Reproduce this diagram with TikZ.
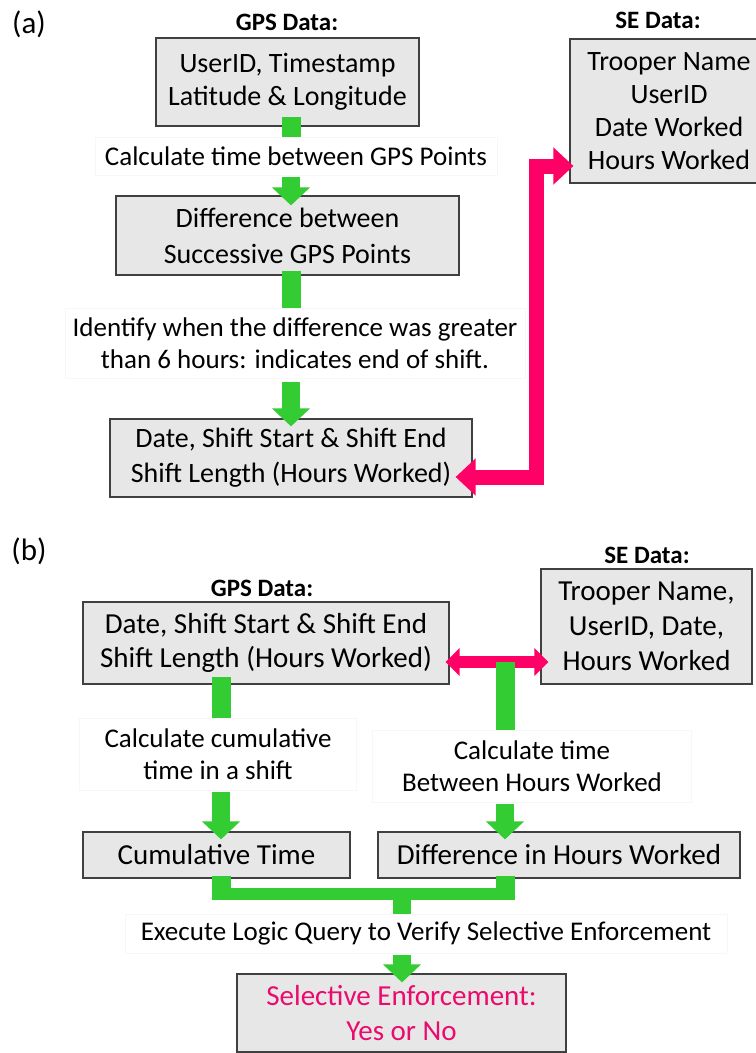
\documentclass[tikz,border=0pt]{standalone}
\usepackage{fontspec}
\setmainfont{Carlito}
\usepackage{tikz}
\usetikzlibrary{arrows.meta,calc}
\definecolor{boxgray}{RGB}{231,231,231}
\definecolor{flowgreen}{RGB}{51,204,51}
\definecolor{linkpink}{RGB}{255,0,102}
\definecolor{selpink}{RGB}{235,10,110}

\begin{document}
\begin{tikzpicture}[x=1bp, y=-1bp]
			\tikzstyle{Box}		= [rectangle, draw=black!75, line width=1.2bp, fill=boxgray, align=center, inner sep=0pt, font=\fontsize{28bp}{33bp}\selectfont]
			\tikzstyle{BoxB}	= [Box, font=\fontsize{29bp}{34bp}\selectfont]
			\tikzstyle{Label}	= [rectangle, draw=black!3, fill=white, align=center, inner sep=0pt, font=\fontsize{27bp}{32bp}\selectfont]
			\tikzstyle{Head}	= [font=\fontsize{25bp}{30bp}\selectfont\bfseries]
			\tikzstyle{Tag}		= [font=\fontsize{31bp}{36bp}\selectfont]
			\tikzstyle{Stub}	= [flowgreen, line width=19bp]
			\tikzstyle{Flow}	= [flowgreen, line width=18bp, -{Triangle[width=37bp,length=18bp]}]
			\tikzstyle{Bus}		= [flowgreen, line width=12bp]
			\tikzstyle{Link}	= [linkpink, line width=15bp, line join=miter, {Triangle[width=36bp,length=20bp]}-{Triangle[width=36bp,length=20bp]}]
			\tikzstyle{LinkB}	= [linkpink, line width=12bp, {Triangle[width=27bp,length=14bp]}-{Triangle[width=27bp,length=14bp]}]

			\clip (0,0) rectangle (756,1053);
			\fill [white] (0,0) rectangle (756,1053);

			% (a)
			\node (ta) at (29, 24) [Tag] {(a)};
			\node (hg1) at (287, 22) [Head] {GPS Data:};
			\node (hs1) at (658, 20) [Head] {SE Data:};
			\node (b1) at (287.5, 82) [Box, minimum width=263bp, minimum height=88bp] {UserID, Timestamp\\Latitude \& Longitude};
			\node (l1) at (296, 156) [Label, minimum width=402bp, minimum height=38bp] {Calculate time between GPS Points};
			\node (b2) at (287.5, 235.5) [Box, minimum width=343bp, minimum height=79bp, font=\fontsize{28bp}{36bp}\selectfont] {Difference between\\Successive GPS Points};
			\node (l2) at (295, 343) [Label, minimum width=460bp, minimum height=70bp] {Identify when the difference was greater\\than 6 hours: indicates end of shift.};
			\node (b3) at (291, 458) [Box, minimum width=362bp, minimum height=78bp, font=\fontsize{28bp}{35bp}\selectfont] {Date, Shift Start \& Shift End\\Shift Length (Hours Worked)};
			\node (se1) at (669, 111) [Box, minimum width=198bp, minimum height=144bp] {Trooper Name\\UserID\\Date Worked\\Hours Worked};
			\coordinate (ax) at (291, 0);
			\coordinate (jn) at (536.5, 320);

			\draw [Stub] ($(b1.south -| ax)+(0,-10)$) to (l1.north -| ax);
			\draw [Flow] ($(l1.south -| ax)+(0,2)$) to ($(b2.north -| ax)+(0,10)$);
			\draw [Stub] ($(b2.south -| ax)+(0,-5)$) to (l2.north -| ax);
			\draw [Flow] ($(l2.south -| ax)+(0,4)$) to ($(b3.north -| ax)+(0,8)$);
			\draw [Link] ($(b3.east)+(-17,19)$) -| (jn) |- ($(se1.west)+(4,55)$);

			% (b)
			\node (tb) at (29, 551) [Tag] {(b)};
			\node (hg2) at (262, 588) [Head] {GPS Data:};
			\node (hs2) at (647, 555) [Head] {SE Data:};
			\node (g2) at (266, 643) [BoxB, minimum width=366bp, minimum height=82bp] {Date, Shift Start \& Shift End\\Shift Length (Hours Worked)};
			\node (s2) at (646.5, 626.5) [BoxB, minimum width=211bp, minimum height=115bp, font=\fontsize{29bp}{35bp}\selectfont] {Trooper Name,\\UserID, Date,\\Hours Worked};
			\node (l3) at (218, 754) [Label, minimum width=277bp, minimum height=72bp] {Calculate cumulative\\time in a shift};
			\node (l4) at (532, 766) [Label, minimum width=319bp, minimum height=72bp] {Calculate time\\Between Hours Worked};
			\node (ct) at (216.5, 855) [BoxB, minimum width=267bp, minimum height=46bp] {Cumulative Time};
			\node (dh) at (559, 855) [BoxB, minimum width=362bp, minimum height=46bp] {Difference in Hours Worked};
			\node (ex) at (426, 933.5) [Label, minimum width=602bp, minimum height=39bp] {Execute Logic Query to Verify Selective Enforcement};
			\node (sl) at (401.5, 1013) [BoxB, minimum width=329bp, minimum height=78bp, text=selpink, font=\fontsize{29bp}{35bp}\selectfont] {Selective Enforcement:\\Yes or No};
			\coordinate (axL) at (221, 0);
			\coordinate (axR) at (505, 0);
			\coordinate (axM) at (402, 0);
			\coordinate (pb) at (500, 662);
			\coordinate (bus) at (400, 894);

			\draw [LinkB] ($(g2.east |- pb)+(-4,0)$) to ($(s2.west |- pb)+(8,0)$);
			\draw [Stub] (axR |- pb) to (l4.north -| axR);
			\draw [Stub] ($(g2.south -| axL)+(0,-8)$) to (l3.north -| axL);
			\draw [Flow] ($(l3.south -| axL)+(0,2)$) to ($(ct.north -| axL)+(0,8)$);
			\draw [Flow] ($(l4.south -| axR)+(0,2)$) to ($(dh.north -| axR)+(0,8)$);
			\draw [Stub] ($(ct.south -| axL)+(0,-3)$) to ($(axL |- bus)+(0,6)$);
			\draw [Stub] ($(dh.south -| axR)+(0,-3)$) to ($(axR |- bus)+(0,6)$);
			\draw [Bus] ($(axL |- bus)+(-9.5,0)$) to ($(axR |- bus)+(9.5,0)$);
			\draw [Stub, line width=18bp] (axM |- bus) to (ex.north -| axM);
			\draw [Flow] ($(ex.south -| axM)+(0,2)$) to ($(sl.north -| axM)+(0,9)$);
		\end{tikzpicture}
\end{document}
